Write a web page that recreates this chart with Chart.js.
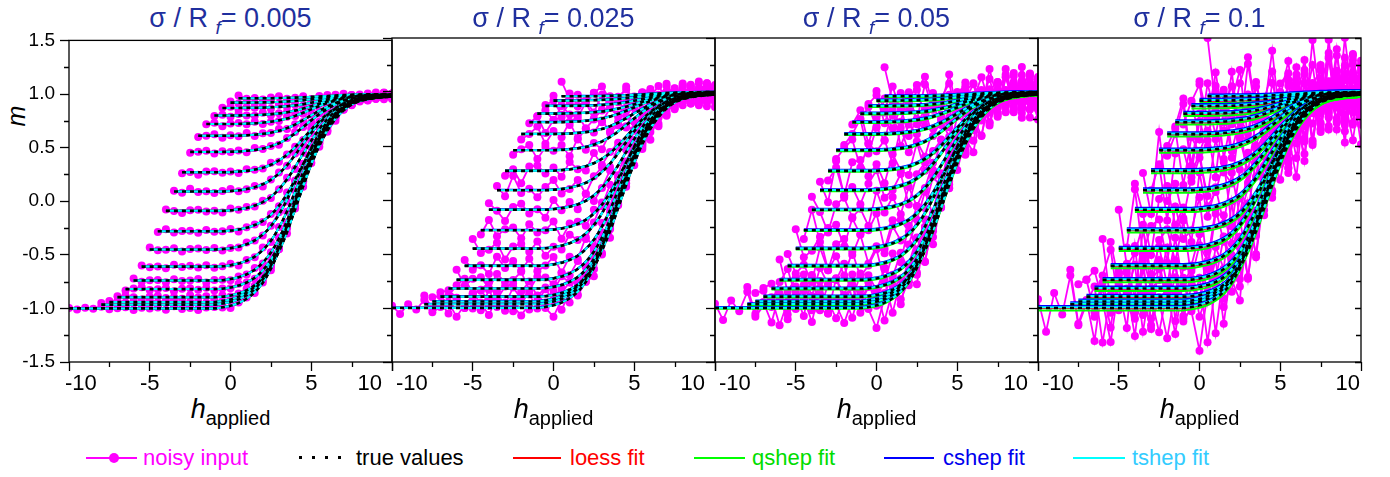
<!DOCTYPE html>
<html>
<head>
<meta charset="utf-8">
<title>FORC fits</title>
<script src="https://cdn.jsdelivr.net/npm/chart.js@4.4.1/dist/chart.umd.min.js"></script>
<style>
  html, body { margin: 0; padding: 0; background: #fff; }
  body { position: relative; width: 1390px; height: 477px; overflow: hidden;
         font-family: "Liberation Sans", Arial, sans-serif; }
  canvas { position: absolute; }
  .title { position: absolute; top: 2px; width: 323px; text-align: center; font-size: 27px;
           line-height: 32px; color: #1f2f9e; white-space: nowrap; }
  .title sub { font-size: 19px; font-style: italic; vertical-align: -7px; line-height: 0; }
  .xtitle { position: absolute; top: 394px; width: 323px; text-align: center; font-size: 27px;
            line-height: 30px; white-space: nowrap; }
  .xtitle sub { font-size: 20px; vertical-align: -7px; line-height: 0; }
  .ytitle { position: absolute; left: 1px; top: 101px; width: 30px; height: 30px; font-size: 25px;
            font-style: italic; line-height: 30px; text-align: center; transform: rotate(-90deg); }
  .lg { position: absolute; top: 446px; font-size: 22px; line-height: 24px; white-space: nowrap; }
  .sw { position: absolute; top: 457px; height: 2px; }
  .mk { position: absolute; top: 453px; width: 10px; height: 10px; border-radius: 50%; background: #ff00ff; }
</style>
</head>
<body>
<div class="ytitle">m</div>

<div class="sw" style="left:86px;width:51px;background:#ff00ff"></div>
<div class="mk" style="left:109px"></div>
<div class="lg" style="left:143px;color:#ff00ff">noisy input</div>
<div class="sw" style="left:299px;width:44px;height:3px;top:456px;background:repeating-linear-gradient(90deg,#000 0 3px,transparent 3px 13px)"></div>
<div class="lg" style="left:356px;color:#000">true values</div>
<div class="sw" style="left:513px;width:48px;background:#ff0000"></div>
<div class="lg" style="left:570px;color:#ff0000">loess fit</div>
<div class="sw" style="left:694px;width:51px;background:#00ff00"></div>
<div class="lg" style="left:752px;color:#00dd00">qshep fit</div>
<div class="sw" style="left:884px;width:50px;background:#0000ff"></div>
<div class="lg" style="left:943px;color:#0000ee">cshep fit</div>
<div class="sw" style="left:1073px;width:52px;background:#00ffff"></div>
<div class="lg" style="left:1132px;color:#33ccff">tshep fit</div>

<script>
// reversal fields hr of the first-order reversal curves, sampled every 0.5 in h
const fieldStep = 0.5;
const reversalFields = [-10, -8, -7.5, -7, -6.5, -6, -5.5, -5, -4.5, -4, -3.5, -3, -2.5, -2, -1.5, -1, -0.5, 0, 0.5];

// true m along each curve, from h = hr up to h = 10
const trueFromM10 = [-1, -1, -1, -1, -1, -1, -1, -1, -1, -1, -1, -1, -1, -1, -1, -1, -1, -1, -1,
  -0.99, -0.975, -0.95, -0.91, -0.85, -0.76, -0.63, -0.46, -0.25, -0.02, 0.20, 0.40, 0.57, 0.70, 0.80, 0.87, 0.916, 0.94, 0.956, 0.966, 0.972, 0.976];
const trueFromM8 = [-0.965, -0.965, -0.965, -0.965, -0.965, -0.965, -0.965, -0.965, -0.965, -0.965, -0.965, -0.965, -0.965, -0.965, -0.965,
  -0.955, -0.94, -0.916, -0.877, -0.818, -0.729, -0.601, -0.434, -0.228, -0.002, 0.214, 0.411, 0.578, 0.705, 0.804, 0.872, 0.917, 0.941, 0.957, 0.967, 0.972, 0.976];
const trueFromM7_5 = [-0.94, -0.94, -0.94, -0.94, -0.94, -0.94, -0.94, -0.94, -0.94, -0.94, -0.94, -0.94, -0.94, -0.94,
  -0.93, -0.916, -0.89, -0.853, -0.795, -0.707, -0.581, -0.416, -0.213, 0.011, 0.224, 0.418, 0.583, 0.709, 0.806, 0.874, 0.919, 0.942, 0.957, 0.967, 0.973, 0.977];
const trueFromM7 = [-0.895, -0.895, -0.895, -0.895, -0.895, -0.895, -0.895, -0.895, -0.895, -0.895, -0.895, -0.895, -0.895,
  -0.891, -0.88, -0.861, -0.831, -0.785, -0.713, -0.611, -0.469, -0.289, -0.076, 0.138, 0.341, 0.517, 0.659, 0.767, 0.847, 0.901, 0.934, 0.951, 0.962, 0.971, 0.975];
const trueFromM6_5 = [-0.82, -0.82, -0.82, -0.82, -0.82, -0.82, -0.82, -0.82, -0.82, -0.82, -0.82, -0.82,
  -0.816, -0.805, -0.787, -0.758, -0.714, -0.645, -0.547, -0.41, -0.238, -0.034, 0.172, 0.367, 0.536, 0.672, 0.776, 0.853, 0.905, 0.936, 0.953, 0.965, 0.972, 0.976];
const trueFromM6 = [-0.74, -0.74, -0.74, -0.74, -0.74, -0.74, -0.74, -0.74, -0.74, -0.74, -0.74,
  -0.737, -0.726, -0.709, -0.681, -0.639, -0.573, -0.479, -0.349, -0.183, 0.012, 0.208, 0.394, 0.556, 0.687, 0.786, 0.859, 0.91, 0.939, 0.955, 0.966, 0.973, 0.977];
const trueFromM5_5 = [-0.61, -0.61, -0.61, -0.61, -0.61, -0.61, -0.61, -0.61, -0.61, -0.61,
  -0.607, -0.597, -0.581, -0.555, -0.517, -0.455, -0.369, -0.248, -0.095, 0.086, 0.267, 0.44, 0.589, 0.71, 0.802, 0.87, 0.916, 0.944, 0.958, 0.968, 0.975, 0.979];
const trueFromM5 = [-0.45, -0.45, -0.45, -0.45, -0.45, -0.45, -0.45, -0.45, -0.45,
  -0.447, -0.438, -0.424, -0.401, -0.366, -0.311, -0.233, -0.124, 0.014, 0.176, 0.34, 0.495, 0.63, 0.739, 0.822, 0.883, 0.925, 0.949, 0.962, 0.971, 0.978, 0.981];
const trueFromM4_5 = [-0.28, -0.28, -0.28, -0.28, -0.28, -0.28, -0.28, -0.28, -0.28,
  -0.274, -0.264, -0.248, -0.222, -0.184, -0.126, -0.043, 0.066, 0.2, 0.347, 0.488, 0.616, 0.725, 0.808, 0.872, 0.917, 0.946, 0.962, 0.972, 0.978, 0.982];
const trueFromM4 = [-0.09, -0.09, -0.09, -0.09, -0.09, -0.09, -0.09, -0.09,
  -0.085, -0.076, -0.063, -0.041, -0.008, 0.041, 0.112, 0.204, 0.319, 0.444, 0.564, 0.673, 0.766, 0.837, 0.891, 0.929, 0.954, 0.967, 0.976, 0.981, 0.985];
const trueFromM3_5 = [0.09, 0.09, 0.09, 0.09, 0.09, 0.09, 0.09,
  0.095, 0.101, 0.113, 0.131, 0.158, 0.199, 0.258, 0.336, 0.431, 0.536, 0.636, 0.727, 0.804, 0.864, 0.909, 0.941, 0.962, 0.973, 0.98, 0.985, 0.987];
const trueFromM3 = [0.27, 0.27, 0.27, 0.27, 0.27, 0.27,
  0.271, 0.276, 0.283, 0.295, 0.312, 0.34, 0.38, 0.434, 0.504, 0.585, 0.668, 0.746, 0.814, 0.869, 0.91, 0.941, 0.962, 0.974, 0.981, 0.986, 0.989];
const trueFromM2_5 = [0.46, 0.46, 0.46, 0.46, 0.46,
  0.461, 0.464, 0.47, 0.478, 0.491, 0.512, 0.541, 0.582, 0.633, 0.693, 0.754, 0.812, 0.862, 0.903, 0.934, 0.956, 0.972, 0.981, 0.986, 0.99, 0.992];
const trueFromM2 = [0.61, 0.61, 0.61, 0.61, 0.61,
  0.612, 0.615, 0.62, 0.628, 0.639, 0.657, 0.682, 0.715, 0.756, 0.801, 0.844, 0.883, 0.916, 0.942, 0.961, 0.975, 0.984, 0.988, 0.991, 0.993];
const trueFromM1_5 = [0.72, 0.72, 0.72, 0.72,
  0.721, 0.724, 0.727, 0.733, 0.741, 0.754, 0.772, 0.796, 0.825, 0.857, 0.888, 0.916, 0.94, 0.958, 0.972, 0.982, 0.988, 0.992, 0.994, 0.995];
const trueFromM1 = [0.80, 0.80, 0.80,
  0.80, 0.802, 0.804, 0.807, 0.812, 0.819, 0.83, 0.845, 0.864, 0.886, 0.909, 0.93, 0.949, 0.964, 0.975, 0.984, 0.99, 0.993, 0.995, 0.996];
const trueFromM0_5 = [0.87, 0.87, 0.87,
  0.871, 0.872, 0.873, 0.876, 0.88, 0.886, 0.894, 0.905, 0.919, 0.934, 0.948, 0.961, 0.972, 0.98, 0.987, 0.992, 0.994, 0.996, 0.997];
const trueFrom0 = [0.92, 0.92,
  0.92, 0.921, 0.922, 0.924, 0.926, 0.93, 0.935, 0.942, 0.95, 0.959, 0.968, 0.976, 0.983, 0.988, 0.992, 0.995, 0.997, 0.998, 0.998];
const trueFromP0_5 = [0.96,
  0.96, 0.96, 0.961, 0.961, 0.962, 0.964, 0.966, 0.969, 0.973, 0.977, 0.982, 0.986, 0.99, 0.993, 0.995, 0.997, 0.998, 0.999, 0.999];

const trueCurves = [trueFromM10, trueFromM8, trueFromM7_5, trueFromM7, trueFromM6_5, trueFromM6, trueFromM5_5,
  trueFromM5, trueFromM4_5, trueFromM4, trueFromM3_5, trueFromM3, trueFromM2_5, trueFromM2, trueFromM1_5,
  trueFromM1, trueFromM0_5, trueFrom0, trueFromP0_5];

// noise level of each panel (sigma / R_f) and the field range R_f
const sigmaRatios = [0.005, 0.025, 0.05, 0.1];
const rangeRf = 2;

// unit deviations of the noisy input, walked point by point over all curves
const noiseTable = [0.4, -1.1, 0.7, -0.3, 1.5, -0.8, 0.2, 1.0, -1.6, 0.6,
  -0.1, 0.9, -1.3, 1.9, -0.5, 0.3, -1.4, 0.8, 1.2, -0.2,
  -2.1, 0.5, 1.1, -0.7, 0.1, -1.5, 1.7, -0.4, 0.9, -0.9,
  1.3, -1.0, 0.0, 1.4, -1.8, 0.6, -0.6, 2.2, -1.2, 0.7,
  -0.3, 1.6, -0.9, 0.2, -1.7, 1.0, -0.4, 0.8, -1.1, 2.7,
  -0.5, 0.3, -1.3, 0.6, 1.8, -0.8, -0.2, 1.1, -2.0, 0.4,
  0.9, -0.6, 1.3, -1.4, 0.1, -0.7, 1.6, -0.1, -1.0, 0.5,
  2.0, -1.6, 0.7, -0.3, 1.2, -0.9, 0.3, -2.3, 0.8, 1.0,
  -0.5, 0.6, -1.2, 1.4, -0.2, -0.8, 1.9, -1.1, 0.2, 0.5,
  -1.5, 1.1, -0.4, 0.0, 1.5, -1.9, 0.6];

// systematic offset of each fit from the true curves, per panel
const loessShift = [0, 0, 0, 0];
const qshepShift = [0, 0.003, -0.008, -0.022];
const cshepShift = [0, 0.004, 0.01, 0.018];
const tshepShift = [0, 0, 0.003, 0.006];

// axis ticks
const xMajorTicks = [-10, -5, 0, 5, 10];
const xMinorTicks = [-7.5, -2.5, 2.5, 7.5];
const yMinorTicks = [-1.25, -0.75, -0.25, 0.25, 0.75, 1.25];

const FONT = '"Liberation Sans", Arial, sans-serif';
const PANEL_W = 323, PANEL_H = 324, PLOT_TOP = 38, FIRST_LEFT = 69, PAD = 14, BOTTOM = 60;

function curvePoints(k, values, shift) {
  return values.map((m, i) => ({ x: reversalFields[k] + i * fieldStep, y: m + shift }));
}

// box, minor ticks and x tick labels
const framePlugin = {
  id: 'frame',
  afterDraw(chart, args, opts) {
    const { ctx, chartArea: a } = chart;
    const x = chart.scales.x, y = chart.scales.y;
    ctx.save();
    ctx.strokeStyle = '#000';
    ctx.lineWidth = 1.3;
    ctx.strokeRect(a.left, a.top, a.right - a.left, a.bottom - a.top);
    ctx.beginPath();
    xMinorTicks.forEach(v => {
      const px = Math.round(x.getPixelForValue(v)) + 0.5;
      ctx.moveTo(px, a.bottom); ctx.lineTo(px, a.bottom + 5);
    });
    yMinorTicks.forEach(v => {
      const py = Math.round(y.getPixelForValue(v)) + 0.5;
      ctx.moveTo(a.left, py); ctx.lineTo(a.left - 5, py);
      if (opts.rightTicks) { ctx.moveTo(a.right, py); ctx.lineTo(a.right - 5, py); }
    });
    if (opts.rightTicks) {
      y.ticks.forEach(t => {
        const py = Math.round(y.getPixelForValue(t.value)) + 0.5;
        ctx.moveTo(a.right, py); ctx.lineTo(a.right - 6, py);
      });
    }
    ctx.stroke();

    // end labels are pushed off the shared edge so neighbouring panels don't collide
    ctx.fillStyle = '#000';
    ctx.font = '22px ' + FONT;
    ctx.textBaseline = 'middle';
    xMajorTicks.forEach((v, i) => {
      const px = x.getPixelForValue(v);
      let dx = 0;
      ctx.textAlign = 'center';
      if (i === 0) { ctx.textAlign = 'left'; dx = opts.firstPanel ? -4 : 4; }
      if (i === xMajorTicks.length - 1) { ctx.textAlign = 'right'; dx = opts.lastPanel ? -1 : -10; }
      ctx.fillText(String(v), px + dx, a.bottom + 22);
    });
    ctx.restore();
  }
};

sigmaRatios.forEach((ratio, p) => {
  const left = FIRST_LEFT + p * PANEL_W;
  const axisW = p === 0 ? FIRST_LEFT : 12;

  const title = document.createElement('div');
  title.className = 'title';
  title.style.left = left + 'px';
  title.innerHTML = 'σ / R <sub>f</sub>= ' + ratio;
  document.body.appendChild(title);

  const xt = document.createElement('div');
  xt.className = 'xtitle';
  xt.style.left = left + 'px';
  xt.innerHTML = '<i>h</i><sub>applied</sub>';
  document.body.appendChild(xt);

  const canvas = document.createElement('canvas');
  canvas.width = axisW + PANEL_W + 8;
  canvas.height = PAD + PANEL_H + BOTTOM;
  canvas.style.left = (left - axisW) + 'px';
  canvas.style.top = (PLOT_TOP - PAD) + 'px';
  document.body.appendChild(canvas);

  const sigma = ratio * rangeRf;
  const datasets = [];
  let g = 0;
  trueCurves.forEach((vals, k) => {
    const noisy = vals.map((m, i) => ({
      x: reversalFields[k] + i * fieldStep,
      y: m + sigma * noiseTable[(g + i) % noiseTable.length]
    }));
    g += vals.length;
    datasets.push({ data: noisy, order: 5, borderColor: '#ff00ff', borderWidth: 1.8,
      pointRadius: 4, pointBackgroundColor: '#ff00ff', pointBorderWidth: 0 });
    const fit = (shift, color, order) => ({ data: curvePoints(k, vals, shift[p]), order,
      borderColor: color, borderWidth: 2, pointRadius: 0, cubicInterpolationMode: 'monotone' });
    datasets.push(fit(loessShift, '#ff0000', 4));
    datasets.push(fit(qshepShift, '#00ff00', 3));
    datasets.push(fit(cshepShift, '#0000ff', 2));
    datasets.push(fit(tshepShift, '#00ffff', 1));
    datasets.push({ data: curvePoints(k, vals, 0), order: 0, borderColor: '#000', borderWidth: 2.6,
      borderDash: [4, 4], pointRadius: 0, cubicInterpolationMode: 'monotone' });
  });

  new Chart(canvas, {
    type: 'line',
    data: { datasets },
    plugins: [framePlugin],
    options: {
      responsive: false,
      animation: false,
      devicePixelRatio: 1,
      events: [],
      layout: { padding: { top: PAD, right: 8, bottom: 0, left: 0 } },
      plugins: {
        legend: { display: false },
        tooltip: { enabled: false },
        frame: { rightTicks: p === 3, firstPanel: p === 0, lastPanel: p === 3 }
      },
      scales: {
        x: {
          type: 'linear', min: -10, max: 10,
          ticks: { display: false, stepSize: 5 },
          grid: { drawOnChartArea: false, tickLength: 9, tickColor: '#000', tickWidth: 1.3 },
          border: { display: false },
          afterFit: s => { s.height = BOTTOM; }
        },
        y: {
          min: -1.5, max: 1.5,
          ticks: { display: p === 0, stepSize: 0.5, padding: 5, color: '#000',
                   font: { family: FONT, size: 19 }, callback: v => v.toFixed(1) },
          grid: { drawOnChartArea: false, tickLength: 9, tickColor: '#000', tickWidth: 1.3 },
          border: { display: false },
          afterFit: s => { s.width = axisW; }
        }
      }
    }
  });
});
</script>
</body>
</html>
